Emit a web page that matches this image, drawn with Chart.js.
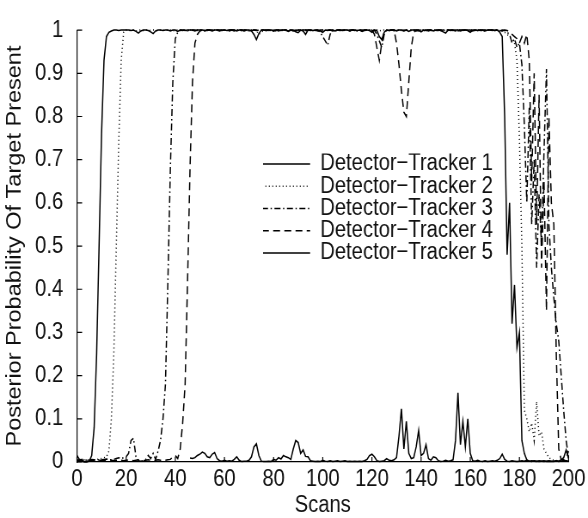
<!DOCTYPE html>
<html><head><meta charset="utf-8">
<script src="https://cdn.jsdelivr.net/npm/chart.js@4.4.1/dist/chart.umd.min.js"></script>
<style>html,body{margin:0;padding:0;background:#fff;overflow:hidden}
#c{display:block}</style></head>
<body><canvas id="c" width="684" height="518" style="width:588px;height:518px"></canvas>
<script>
const scans = [
0,1,2,3,4,5,6,7,8,9,10,11,12,13,14,15,16,17,18,19,
20,21,22,23,24,25,26,27,28,29,30,31,32,33,34,35,36,37,38,39,
40,41,42,43,44,45,46,47,48,49,50,51,52,53,54,55,56,57,58,59,
60,61,62,63,64,65,66,67,68,69,70,71,72,73,74,75,76,77,78,79,
80,81,82,83,84,85,86,87,88,89,90,91,92,93,94,95,96,97,98,99,
100,101,102,103,104,105,106,107,108,109,110,111,112,113,114,115,116,117,118,119,
120,121,122,123,124,125,126,127,128,129,130,131,132,133,134,135,136,137,138,139,
140,141,142,143,144,145,146,147,148,149,150,151,152,153,154,155,156,157,158,159,
160,161,162,163,164,165,166,167,168,169,170,171,172,173,174,175,176,177,178,179,
180,181,182,183,184,185,186,187,188,189,190,191,192,193,194,195,196,197,198,199,200];

const tracker1 = [
0.015,0.006,0.002,0,0,0.002,0.015,0.08,0.25,0.5,
0.76,0.93,0.985,0.995,0.998,1,1,0.999,1,1,
1,1,0.999,1,0.997,0.993,0.998,1,1,0.999,
0.996,0.992,0.998,1,1,0.999,1,1,0.998,1,
1,0.997,1,1,0.999,1,1,1,0.998,1,
1,1,0.999,1,1,0.998,1,1,0.999,1,
1,0.999,1,1,1,0.998,1,1,0.999,1,
1,0.998,0.99,0.978,0.992,1,1,0.999,1,1,
0.998,1,1,0.999,1,1,0.997,1,1,0.996,
0.994,1,0.998,0.99,1,1,0.999,1,1,0.998,
0.995,1,0.999,1,1,0.998,1,1,0.999,1,
1,0.998,1,1,0.999,1,0.997,1,1,0.999,
0.995,1,0.999,0.985,0.978,0.995,1,0.999,1,1,
0.998,1,1,0.999,1,0.997,1,1,0.998,1,
0.996,1,0.999,1,1,0.998,1,1,0.999,0.996,
0.993,1,1,0.999,1,1,0.998,1,1,0.999,
0.995,1,1,0.999,1,1,0.998,1,1,1,
0.999,1,0.995,0.985,0.8,0.48,0.6,0.32,0.41,0.265,
0.3,0.05,0.02,0.005,0.002,0.001,0.003,0.002,0.001,0.002,
0.003,0.001,0.002,0.001,0.002,0.003,0.001,0.002,0.004,0.003,
0.002];

const tracker2 = [
0.004,0.003,0.004,0.005,0.004,0.003,0.004,0.005,0.006,0.007,
0.008,0.01,0.012,0.025,0.1,0.25,0.5,0.74,0.93,0.995,
1,0.999,1,1,0.998,1,1,0.999,1,1,
0.999,1,1,0.998,1,1,0.999,1,1,0.998,
1,1,0.999,1,1,0.998,1,1,0.999,1,
1,0.998,1,1,0.999,1,1,1,0.998,1,
1,0.999,1,1,0.998,1,1,0.999,1,1,
0.998,1,1,0.999,0.99,0.995,1,1,0.999,1,
1,0.998,1,1,0.999,1,1,0.998,1,1,
0.999,1,1,0.998,1,1,0.999,1,1,0.998,
1,1,0.999,1,1,0.998,1,1,0.999,1,
1,0.998,1,1,0.999,1,1,0.998,1,1,
0.999,1,1,0.998,1,1,0.999,1,1,0.998,
1,1,0.999,1,1,0.998,1,1,0.999,1,
1,0.998,1,1,0.999,1,1,0.998,1,1,
0.999,1,1,0.998,1,1,0.999,1,1,0.998,
1,1,0.999,1,1,0.998,1,1,0.999,1,
1,0.999,1,0.998,0.995,0.99,0.985,0.975,0.97,0.93,
0.75,0.5,0.12,0.1,0.07,0.09,0.05,0.14,0.06,0.07,
0.03,0.02,0.01,0.006,0.004,0.003,0.004,0.003,0.002,0.003,
0.002];

const tracker3 = [
0.004,0.005,0.006,0.005,0.004,0.005,0.006,0.005,0.004,0.005,
0.005,0.006,0.007,0.006,0.005,0.006,0.008,0.01,0.008,0.01,
0.012,0.02,0.05,0.055,0.012,0.003,0.002,0.003,0.006,0.015,
0.008,0.02,0.006,0.025,0.05,0.1,0.18,0.42,0.68,0.88,
0.98,0.995,1,0.999,1,1,0.998,1,1,0.999,
1,1,0.998,1,1,0.999,1,1,0.998,1,
1,0.999,1,1,0.998,1,1,0.999,1,1,
0.998,1,1,0.999,1,1,0.998,1,1,0.999,
1,1,0.998,1,1,0.999,1,1,0.998,1,
1,0.999,1,1,0.998,1,1,0.999,1,0.995,
0.985,0.975,0.965,0.99,1,0.999,1,1,0.998,1,
1,0.999,1,1,0.998,1,1,0.999,1,1,
0.998,1,0.99,0.975,0.96,0.99,1,0.999,1,1,
0.999,1,1,0.998,1,1,0.999,1,1,0.998,
1,1,0.999,1,1,0.998,1,1,0.999,1,
1,0.999,1,1,0.998,1,1,0.999,1,1,
0.998,1,1,0.999,1,1,0.998,1,1,0.999,
1,1,0.998,1,0.999,0.995,0.99,0.97,0.98,0.96,
0.97,0.92,0.78,0.6,0.82,0.55,0.7,0.45,0.62,0.5,
0.72,0.91,0.55,0.45,0.38,0.32,0.28,0.2,0.12,0.05,
0.01];

const tracker4 = [
0.003,0.004,0.003,0.004,0.005,0.004,0.003,0.004,0.005,0.004,
0.004,0.003,0.004,0.005,0.004,0.003,0.004,0.005,0.004,0.003,
0.004,0.005,0.004,0.003,0.004,0.005,0.004,0.003,0.004,0.005,
0.004,0.003,0.004,0.005,0.004,0.003,0.004,0.005,0.006,0.012,
0.015,0.008,0.03,0.09,0.18,0.42,0.68,0.88,0.97,0.99,
0.998,1,1,0.999,1,1,0.998,1,1,0.999,
1,1,0.998,1,1,0.999,1,1,0.998,1,
1,0.999,1,1,0.998,1,1,0.999,1,1,
0.998,1,1,0.999,1,1,0.998,1,1,0.999,
1,1,0.998,1,1,0.999,1,1,0.998,1,
1,0.999,1,1,0.998,1,1,0.999,1,1,
0.998,1,1,0.999,1,1,0.998,1,1,0.999,
1,0.99,0.96,0.93,0.97,0.995,1,0.999,1,1,
0.97,0.92,0.86,0.81,0.8,0.88,0.96,0.995,1,1,
0.999,1,1,0.998,1,1,0.999,1,1,0.998,
1,1,0.999,1,1,0.998,1,1,0.999,1,
1,0.998,1,1,0.999,1,1,0.998,1,1,
0.999,1,1,0.998,1,0.999,0.995,0.99,0.985,0.98,
0.97,0.985,0.97,0.99,0.93,0.65,0.9,0.55,0.85,0.45,
0.65,0.35,0.8,0.6,0.55,0.25,0.03,0.005,0.005,0.01,
0.025];

const tracker5 = [
null,null,null,null,null,null,null,null,null,null,
null,null,null,null,null,null,null,null,null,null,
null,null,null,null,null,null,null,null,null,null,
null,null,null,null,null,null,null,null,null,null,
null,null,null,null,null,null,0.009,0.008,0.01,0.015,
0.018,0.023,0.02,0.012,0.01,0.018,0.022,0.008,0.003,0.002,
0.004,0.002,0.003,0.002,0.006,0.012,0.004,0.001,0.002,0.002,
0.004,0.012,0.035,0.042,0.015,0.002,0.001,0.001,0.002,0.001,
0.006,0.004,0.01,0.007,0.015,0.012,0.01,0.006,0.03,0.05,
0.045,0.02,0.028,0.013,0.012,0.003,0.002,0.001,0.002,0.001,
0.004,0.002,0.001,0.003,0.001,0.002,0.003,0.001,0.002,0.003,
0.001,0.002,0.001,0.002,0.001,0.002,0.001,0.003,0.006,0.015,
0.018,0.012,0.003,0.001,0.002,0.003,0.008,0.004,0.003,0.005,
0.01,0.06,0.123,0.03,0.094,0.02,0.008,0.01,0.035,0.073,
0.015,0.02,0.04,0.008,0.004,0.012,0.01,0.003,0.001,0.002,
0.004,0.002,0.003,0.005,0.05,0.16,0.04,0.094,0.035,0.1,
0.02,0.003,0.002,0.004,0.002,0.001,0.003,0.001,0.002,0.003,
0.002,0.004,0.008,0.018,0.006,0.002,0.001,0.003,0.002,0.001,
0.002,0.003,0.002,0.004,0.002,0.003,0.002,0.001,0.003,0.002,
0.001,0.002,0.003,0.002,0.001,0.003,0.002,0.005,0.01,0.028,
0.008];

const seriesNames = ['Detector\u2212Tracker 1','Detector\u2212Tracker 2','Detector\u2212Tracker 3','Detector\u2212Tracker 4','Detector\u2212Tracker 5'];
const xTickValues = [0,20,40,60,80,100,120,140,160,180,200];
const xTickLabels = ['0','20','40','60','80','100','120','140','160','180','200'];
const yTickValues = [0,0.1,0.2,0.3,0.4,0.5,0.6,0.7,0.8,0.9,1];
const yTickLabels = ['0','0.1','0.2','0.3','0.4','0.5','0.6','0.7','0.8','0.9','1'];
const xTitle = 'Scans';
const yTitle = 'Posterior Probability Of Target Present';

const FONT = "'Liberation Sans', Arial, Helvetica, sans-serif";
const TXT = '#111';
Chart.defaults.font.family = FONT;
Chart.defaults.color = TXT;

const dashes = [[], [1, 3], [7, 3, 1.5, 3], [8, 5], []];
const allSeries = [tracker1, tracker2, tracker3, tracker4, tracker5];

const datasets = allSeries.map((s, i) => ({
  label: seriesNames[i],
  data: s,
  borderColor: '#000',
  backgroundColor: '#000',
  borderWidth: 1.5,
  borderDash: dashes[i],
  pointRadius: 0,
  tension: 0,
  fill: false,
  clip: false,
  spanGaps: false
}));

const inwardTicks = {
  id: 'inwardTicks',
  afterDraw(chart) {
    const {ctx, chartArea} = chart;
    const xs = chart.scales.x, ys = chart.scales.y;
    ctx.save();
    ctx.strokeStyle = '#000';
    ctx.lineWidth = 1.2;
    ctx.beginPath();
    yTickValues.forEach(v => {
      const p = ys.getPixelForValue(v);
      ctx.moveTo(chartArea.left, p);
      ctx.lineTo(chartArea.left + 6, p);
    });
    xTickValues.forEach(v => {
      const p = xs.getPixelForValue(v);
      ctx.moveTo(p, chartArea.bottom);
      ctx.lineTo(p, chartArea.bottom - 5);
    });
    ctx.stroke();
    ctx.restore();
  }
};

const legendPlace = {
  id: 'legendPlace',
  afterLayout(chart) {
    const l = chart.legend;
    if (!l) return;
    const w = l.width, h = l.height;
    l.left = 306; l.top = 153.5;
    l.right = l.left + w; l.bottom = l.top + h;
  }
};

new Chart(document.getElementById('c'), {
  type: 'line',
  data: { labels: scans, datasets },
  plugins: [inwardTicks, legendPlace],
  options: {
    responsive: false,
    animation: false,
    devicePixelRatio: 1,
    layout: { padding: { left: 0, right: 20, top: 14, bottom: 0 } },
    plugins: {
      tooltip: { enabled: false },
      legend: {
        position: 'chartArea',
        align: 'start',
        labels: {
          usePointStyle: true,
          pointStyle: 'line',
          pointStyleWidth: 56,
          padding: -1.25,
          color: TXT,
          font: { size: 23.5, family: FONT },
          generateLabels(chart) {
            const items = Chart.defaults.plugins.legend.labels.generateLabels(chart);
            items.forEach(it => {
              const ds = chart.data.datasets[it.datasetIndex];
              it.lineDash = ds.borderDash;
              it.lineWidth = ds.borderWidth;
              it.strokeStyle = ds.borderColor;
              it.pointStyle = 'line';
            });
            return items;
          }
        }
      }
    },
    scales: {
      x: {
        type: 'linear',
        min: 0, max: 200,
        afterFit(s) { s.height = 56; },
        afterBuildTicks(s) { s.ticks = xTickValues.map(v => ({ value: v })); },
        grid: { display: false, drawTicks: false },
        border: { display: true, color: '#000', width: 1.2 },
        ticks: {
          padding: 3,
          maxRotation: 0,
          autoSkip: false,
          color: TXT,
          font: { size: 23.5 },
          callback: (v, i) => xTickLabels[i]
        },
        title: { display: true, text: xTitle, color: TXT, font: { size: 23.5 }, padding: { top: 0, bottom: -2 } }
      },
      y: {
        type: 'linear',
        min: 0, max: 1,
        afterFit(s) { s.width = 89.5; },
        afterBuildTicks(s) { s.ticks = yTickValues.map(v => ({ value: v })); },
        grid: { display: false, drawTicks: false },
        border: { display: true, color: '#000', width: 1.2 },
        ticks: {
          padding: 16,
          autoSkip: false,
          color: TXT,
          font: { size: 23.5 },
          callback: (v, i) => yTickLabels[i]
        },
        title: { display: true, text: yTitle, color: TXT, font: { size: 23.5 }, padding: { top: 3.3, bottom: 0 } }
      }
    }
  }
});
</script>
</body></html>
